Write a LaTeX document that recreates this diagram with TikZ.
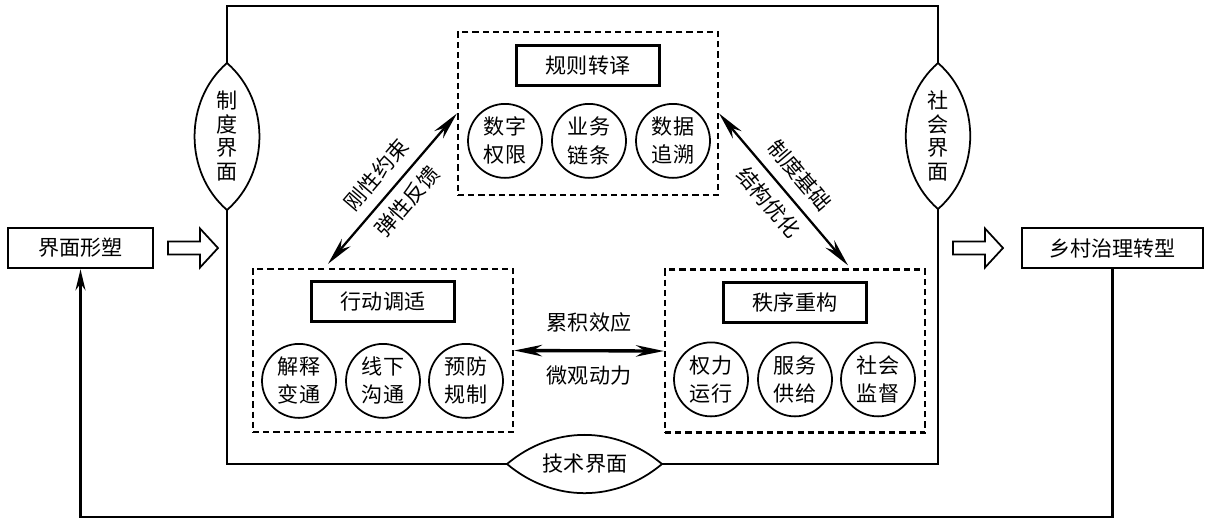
\documentclass[tikz,border=0pt]{standalone}
\usepackage{fontspec}
\setmainfont{Noto Sans CJK SC}
\usepackage{tikz}
\usetikzlibrary{arrows.meta, positioning, calc}

\begin{document}
\begin{tikzpicture}[
  x=0.02cm, y=-0.02cm,
  every node/.style={font=\fontsize{12}{16}\selectfont},
  group/.style={draw, dash pattern=on 3.5pt off 2.3pt, line width=1.3pt, minimum width=5.2cm, minimum height=3.26cm, inner sep=0pt},
  title/.style={draw, line width=1.5pt, minimum width=2.86cm, minimum height=0.8cm, inner sep=0pt},
  item/.style={draw, circle, line width=1pt, minimum size=1.48cm, inner sep=0pt, align=center},
  endbox/.style={draw, line width=1.5pt, minimum height=0.8cm, inner sep=0pt},
  lenstext/.style={align=center, font=\fontsize{12}{13.4}\selectfont},
  frame/.style={line width=1.5pt},
  lens/.style={line width=1pt},
  link/.style={line width=1.3pt, {Stealth[length=0.56cm, width=0.23cm]}-{Stealth[length=0.56cm, width=0.23cm]}},
  hollow/.style={line width=1pt, line join=miter}
]
  \useasboundingbox (0,0) rectangle (1212,529);

  % three groups
  \node[group] (rule) at (588,113.5) {};
  \node[group] (act) at (383,350.5) {};
  \node[group] (order) at (795,351) {};

  \node[title, below=0.27cm of rule.north] (ruleT) {规则转译};
  \node[title, below=0.25cm of act.north] (actT) {行动调适};
  \node[title, below=0.25cm of order.north] (orderT) {秩序重构};

  \node[item] (r1) at ($(rule.north)+(-83,110)$) {数字\\权限};
  \node[item] (r2) at ($(rule.north)+(1,110)$) {业务\\链条};
  \node[item] (r3) at ($(rule.north)+(85,110)$) {数据\\追溯};
  \node[item] (a1) at ($(act.north)+(-84,113)$) {解释\\变通};
  \node[item] (a2) at ($(act.north)+(0,113)$) {线下\\沟通};
  \node[item] (a3) at ($(act.north)+(83,113)$) {预防\\规制};
  \node[item] (o1) at ($(order.north)+(-84,111)$) {权力\\运行};
  \node[item] (o2) at ($(order.north)+(0,111)$) {服务\\供给};
  \node[item] (o3) at ($(order.north)+(83,111)$) {社会\\监督};

  % links between groups
  \draw[link] ($(act.north)+(-55,-4)$) -- (rule.west)
    node[midway, above, sloped, inner sep=6pt] {刚性约束}
    node[midway, below, sloped, inner sep=5pt] {弹性反馈};
  \draw[link] (rule.east) -- ($(order.north)+(53,-3)$)
    node[midway, above, sloped, inner sep=6pt] {制度基础}
    node[midway, below, sloped, inner sep=5pt] {结构优化};
  \draw[link, line width=1.9pt] (act.east) -- (order.west)
    node[midway, above=6pt] {累积效应}
    node[midway, below=4pt] {微观动力};

  % interfaces
  \coordinate (instT) at (227,63);
  \coordinate (instB) at (227,210);
  \coordinate (socT) at (938,63);
  \coordinate (socB) at (938,209);
  \coordinate (techW) at (507,464);
  \coordinate (techE) at (662,464);
  \draw[lens] (instT) to[bend left=49] (instB) to[bend left=49] (instT);
  \draw[lens] (socT) to[bend left=49] (socB) to[bend left=49] (socT);
  \draw[lens] (techW) to[bend left=40] (techE) to[bend left=40] (techW);
  \node[lenstext] (inst) at (227,136) {制\\度\\界\\面};
  \node[lenstext] (soc) at (938,136) {社\\会\\界\\面};
  \node (tech) at (585,464) {技术界面};

  \draw[frame] (instT) -- (227,6) -- (938,6) -- (socT);
  \draw[frame] (instB) |- (techW);
  \draw[frame] (socB) |- (techE);

  % input and output
  \node[endbox, minimum width=2.9cm] (shaping) at (80.5,248) {界面形塑};
  \node[endbox, minimum width=3.62cm] (rural) at (1112.5,248) {乡村治理转型};
  \foreach \x in {168, 953}
    \draw[hollow] (\x,241.5) -- ++(32,0) -- ++(0,-13) -- ++(18,19.5) -- ++(-18,19.5) -- ++(0,-13) -- ++(-32,0) -- cycle;

  % feedback
  \coordinate (back) at (1112.5,517);
  \draw[frame, -{Stealth[length=0.42cm, width=0.2cm]}] (rural.south) -- (back) -| (shaping.south);
\end{tikzpicture}
\end{document}
